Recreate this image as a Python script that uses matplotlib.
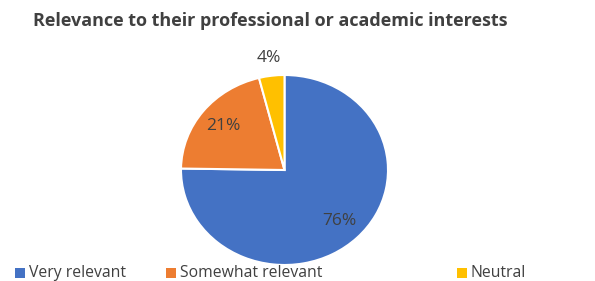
import numpy as np
import matplotlib
matplotlib.use("Agg")
import matplotlib.pyplot as plt
from matplotlib.patches import Rectangle

# data
categories = ["Very relevant", "Somewhat relevant", "Neutral"]
shares = [76, 21, 4]
colors = ["#4472C4", "#ED7D31", "#FFC000"]

W, H = 595, 281
plt.rcParams['font.family'] = ['Open Sans', 'DejaVu Sans']

fig = plt.figure(figsize=(W / 100, H / 100), dpi=100)
fig.patch.set_facecolor("white")

# pie is slightly wider than tall in the reference
cx, cy, rx, ry = 284.5, 170, 103.5, 95
ax = fig.add_axes([(cx - rx) / W, (H - cy - ry) / H, 2 * rx / W, 2 * ry / H])
wedges, texts = ax.pie(shares, colors=colors, startangle=90, counterclock=False,
                       wedgeprops=dict(edgecolor="white", linewidth=1.5))
ax.set_aspect('auto')
ax.set_xlim(-1, 1)
ax.set_ylim(-1, 1)
ax.axis('off')
for w in wedges:
    w.set_clip_on(False)

# percentage labels
total = float(sum(shares))
dists = [0.75, 0.75, 1.19]
ang = 90.0
for v, d in zip(shares, dists):
    span = v / total * 360
    mid = np.deg2rad(ang - span / 2)
    ang -= span
    ax.text(d * np.cos(mid), d * np.sin(mid), "%d%%" % v, ha="center", va="center",
            fontsize=12.5, color="#404040")

fig.text(270 / W, 1 - 21 / H, "Relevance to their professional or academic interests",
         ha="center", va="center", fontsize=13, fontweight="bold", color="#404040")

# legend, laid out like the original
leg_x = [15, 166, 457]
leg_y = 273
for x, lab, c in zip(leg_x, categories, colors):
    fig.add_artist(Rectangle((x / W, (H - leg_y - 5) / H), 10 / W, 10 / H,
                             transform=fig.transFigure, facecolor=c, edgecolor="none"))
    fig.text((x + 14) / W, 1 - leg_y / H, lab, ha="left", va="center",
             fontsize=11.3, color="#404040")

fig.savefig("out.png", dpi=100)
